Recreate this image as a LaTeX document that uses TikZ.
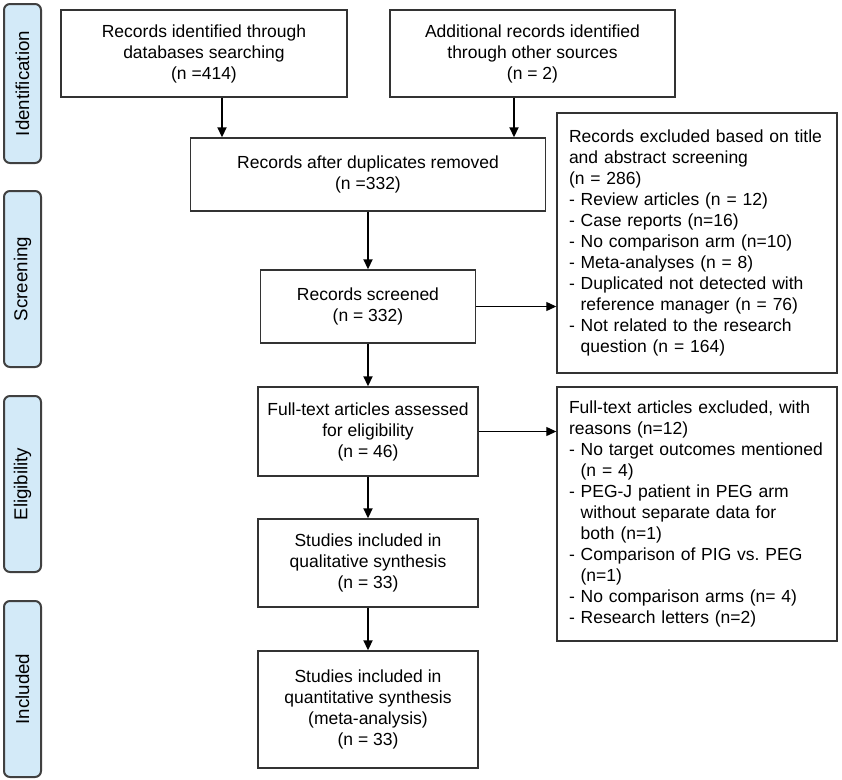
\documentclass[tikz,border=0pt]{standalone}
\usepackage{fontspec}
\setmainfont{Liberation Sans}
\usetikzlibrary{arrows.meta}
\definecolor{stagefill}{RGB}{211,234,248}
\newcommand{\ind}{\hphantom{- }}

\begin{document}
\begin{tikzpicture}
  [x=1pt,y=-1pt,
   box/.style={draw=black!80,line width=1.4pt,align=center,inner sep=0pt,
     font=\fontsize{17.5}{21}\selectfont},
   list/.style={box,align=left,text width=256pt,inner xsep=12pt},
   stage/.style={draw=black!75,line width=2pt,rounded corners=6pt,fill=stagefill,
     rotate=90,minimum height=37pt,font=\fontsize{18.7}{22}\selectfont},
   arr/.style={-{Triangle[length=10pt,width=9pt]},line width=1.8pt}]
\useasboundingbox (0,0) rectangle (842,779);

\node (id)[stage,minimum width=159pt] at (22.5,83.5) {Identification};
\node (scr)[stage,minimum width=176pt] at (22.5,279) {Screening};
\node (eli)[stage,minimum width=176pt] at (22.5,484) {Eligibility};
\node (inc)[stage,minimum width=176pt] at (22.5,689) {Included};

\node (db)[box,minimum width=286pt,minimum height=87pt] at (204,53.5)
  {Records identified through\\databases searching\\(n =414)};
\node (other)[box,minimum width=285pt,minimum height=87pt] at (532.5,53.5)
  {Additional records identified\\through other sources\\(n = 2)};
\node (dup)[box,minimum width=355pt,minimum height=73pt] at (368,174.5)
  {Records after duplicates removed\\(n =332)};
\node (scrd)[box,minimum width=215pt,minimum height=73pt] at (368,306.5)
  {Records screened\\(n = 332)};
\node (exc1)[list,minimum height=260pt] at (697,243)
  {Records excluded based on title\\and abstract screening\\(n = 286)\\
   - Review articles (n = 12)\\- Case reports (n=16)\\
   - No comparison arm (n=10)\\- Meta-analyses (n = 8)\\
   - Duplicated not detected with\\\ind reference manager (n = 76)\\
   - Not related to the research\\\ind question (n = 164)};
\node (full)[box,minimum width=220pt,minimum height=89pt] at (368,431.5)
  {Full-text articles assessed\\for eligibility\\(n = 46)};
\node (qual)[box,minimum width=220pt,minimum height=88pt] at (368,563)
  {Studies included in\\qualitative synthesis\\(n = 33)};
\node (quant)[box,minimum width=220pt,minimum height=117pt] at (368,709.5)
  {Studies included in\\quantitative synthesis\\(meta-analysis)\\(n = 33)};
\node (exc2)[list,minimum height=254pt] at (697,514)
  {Full-text articles excluded, with\\reasons (n=12)\\
   - No target outcomes mentioned\\\ind(n = 4)\\
   - PEG-J patient in PEG arm\\\ind without separate data for\\\ind both (n=1)\\
   - Comparison of PIG vs.\ PEG\\\ind(n=1)\\
   - No comparison arms (n= 4)\\- Research letters (n=2)};

\draw[arr] ([xshift=18pt]db.south) -- ([xshift=18pt]db.south |- dup.north);
\draw[arr] ([xshift=-18.5pt]other.south) -- ([xshift=-18.5pt]other.south |- dup.north);
\draw[arr] (dup.south) -- (scrd.north);
\draw[arr] (scrd.south) -- (full.north);
\draw[arr] (full.south) -- (qual.north);
\draw[arr] (qual.south) -- (quant.north);
\draw[arr,line width=1.1pt] (scrd.east) -- (scrd.east -| exc1.west);
\draw[arr,line width=1.1pt] (full.east) -- (full.east -| exc2.west);

\end{tikzpicture}
\end{document}
